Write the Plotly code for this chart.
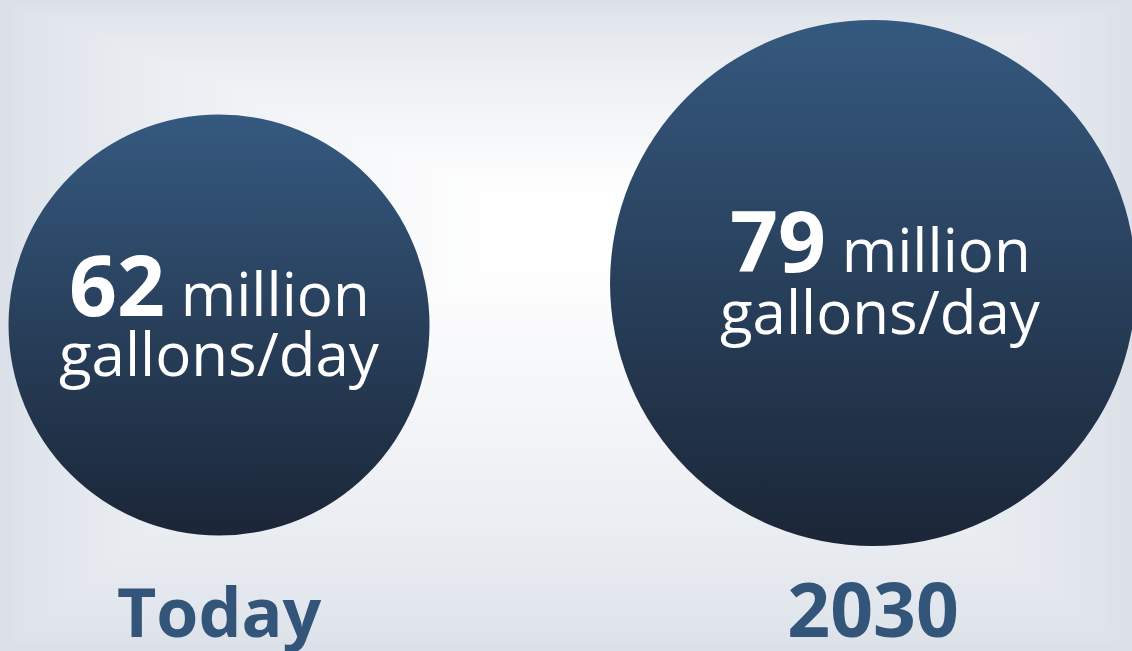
import plotly.graph_objects as go

# ---- data ----
periods = ["Today", "2030"]
demand_mgd = [62, 79]          # million gallons per day
unit_line1 = "million"
unit_line2 = "gallons/day"

# ---- styling ----
W, H = 1132, 651
MB = 89                       # bottom margin (room for period labels)
PH = H - MB                   # plot height in px
circle_diam_px = [421, 526]
circle_center_px = [325, 283]  # px from top of the picture
line1_off = [-18, -16]         # annotation bottom, relative to circle centre (px)
line2_off = [-71, -71]
text_xshift = [0, 7]
label_sizes = [68, 75]
top_col = "#35597f"
bot_col = "#1b2637"
label_col = "#34557a"
edge = (220, 225, 233)
centre = (255, 255, 255)
FONT = "Open Sans"

circle_center_y = [PH - p for p in circle_center_px]

fig = go.Figure()

# background: rectangular "path" gradient made of nested rectangles
cx, cy = 545, 215
N = 45
shapes = []
for i in range(N):
    t = i / N
    f = min(1.0, (t / 0.92) ** 0.75)
    col = tuple(round(edge[k] + (centre[k] - edge[k]) * f) for k in range(3))
    x0 = t * cx
    x1 = W - t * (W - cx)
    y0 = t * cy
    y1 = H - t * (H - cy)
    shapes.append(dict(type="rect", xref="paper", yref="paper", layer="below",
                       x0=x0 / W, x1=x1 / W, y0=1 - y1 / PH, y1=1 - y0 / PH,
                       line=dict(width=0), fillcolor="rgb(%d,%d,%d)" % col))

fig.add_trace(go.Scatter(
    x=list(range(len(periods))), y=circle_center_y, mode="markers",
    marker=dict(size=circle_diam_px, color=top_col,
                gradient=dict(type="vertical", color=bot_col),
                line=dict(width=0), opacity=1),
    cliponaxis=False, hoverinfo="skip", showlegend=False))

annotations = []
for i, v in enumerate(demand_mgd):
    annotations.append(dict(
        x=i, y=circle_center_y[i] + line1_off[i], xref="x", yref="y",
        xanchor="center", yanchor="bottom", xshift=text_xshift[i],
        text="<b><span style='font-size:84px'>%d</span></b> %s" % (v, unit_line1),
        showarrow=False, font=dict(family=FONT, size=60, color="white")))
    annotations.append(dict(
        x=i, y=circle_center_y[i] + line2_off[i], xref="x", yref="y",
        xanchor="center", yanchor="bottom", xshift=text_xshift[i],
        text=unit_line2,
        showarrow=False, font=dict(family=FONT, size=60, color="white")))

tick_text = ["<span style='font-size:%dpx'>%s</span>" % (s, p)
             for s, p in zip(label_sizes, periods)]

fig.update_layout(
    width=W, height=H,
    margin=dict(l=0, r=0, t=0, b=MB, autoexpand=False),
    paper_bgcolor="rgb(%d,%d,%d)" % edge,
    plot_bgcolor="rgba(0,0,0,0)",
    shapes=shapes,
    annotations=annotations,
    xaxis=dict(range=[-0.3349, 1.3960], tickvals=list(range(len(periods))),
               ticktext=tick_text, showgrid=False, zeroline=False, showline=False,
               ticks="", fixedrange=True, automargin=False,
               tickfont=dict(family=FONT, size=74, color=label_col, weight="bold")),
    yaxis=dict(range=[0, PH], visible=False, fixedrange=True, automargin=False),
)

fig.write_html("out.html",
               config={"displayModeBar": False},
               post_script="document.body.style.margin='0';"
                           "document.body.style.overflow='hidden';")
